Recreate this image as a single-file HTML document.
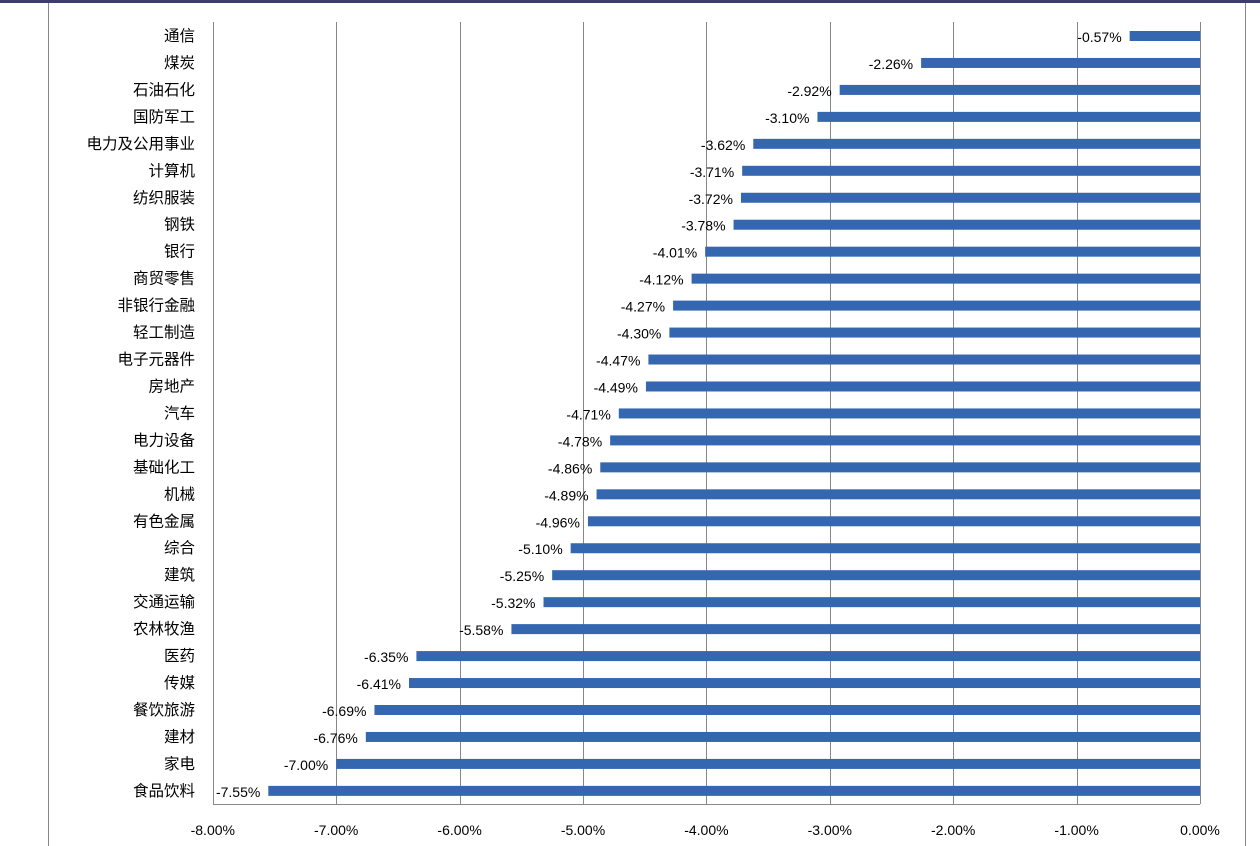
<!DOCTYPE html>
<html><head><meta charset="utf-8"><style>
body{margin:0;background:#fff;}
svg{display:block;font-family:"Liberation Sans","Noto Sans CJK SC",sans-serif;}
</style></head><body>
<svg width="1260" height="846" viewBox="0 0 1260 846" xmlns="http://www.w3.org/2000/svg">
<rect x="0" y="0" width="1260" height="3" fill="#3c3c6e"/>
<line x1="48.5" y1="3" x2="48.5" y2="846" stroke="#888" stroke-width="1"/>
<line x1="1245.5" y1="3" x2="1245.5" y2="846" stroke="#888" stroke-width="1"/>
<g id="grid" stroke="#888" stroke-width="1"></g>
<g id="bars"></g>
<g id="labels" font-size="14" fill="#000"></g>
</svg>
<script>
const cats=["通信","煤炭","石油石化","国防军工","电力及公用事业","计算机","纺织服装","钢铁","银行","商贸零售","非银行金融","轻工制造","电子元器件","房地产","汽车","电力设备","基础化工","机械","有色金属","综合","建筑","交通运输","农林牧渔","医药","传媒","餐饮旅游","建材","家电","食品饮料"];
const vals=[-0.57,-2.26,-2.92,-3.10,-3.62,-3.71,-3.72,-3.78,-4.01,-4.12,-4.27,-4.30,-4.47,-4.49,-4.71,-4.78,-4.86,-4.89,-4.96,-5.10,-5.25,-5.32,-5.58,-6.35,-6.41,-6.69,-6.76,-7.00,-7.55];
const NS="http://www.w3.org/2000/svg";
const X=v=>1200+v*123.4;
const g=document.getElementById('grid'),b=document.getElementById('bars'),l=document.getElementById('labels');
function el(p,t,a,txt){const e=document.createElementNS(NS,t);for(const k in a)e.setAttribute(k,a[k]);if(txt)e.textContent=txt;p.appendChild(e);return e;}
for(let i=0;i<=8;i++){const x=Math.round(X(-i))+0.5;el(g,'line',{x1:x,y1:22,x2:x,y2:804});
el(l,'text',{x:X(-i),y:835,'text-anchor':'middle'},(-i).toFixed(2).replace('-0.00','0.00')+'%');}
el(g,'line',{x1:213,y1:804.5,x2:1200,y2:804.5});
cats.forEach((c,i)=>{const y=36+i*26.96;const x=X(vals[i]);
el(b,'rect',{x:x,y:y-5,width:1200-x,height:10,fill:'#3467b0'});
el(l,'text',{x:195,y:y+5,'text-anchor':'end','font-size':'15.5'},c);
el(l,'text',{x:x-8,y:y+6,'text-anchor':'end'},vals[i].toFixed(2)+'%');});
</script>
</body></html>
